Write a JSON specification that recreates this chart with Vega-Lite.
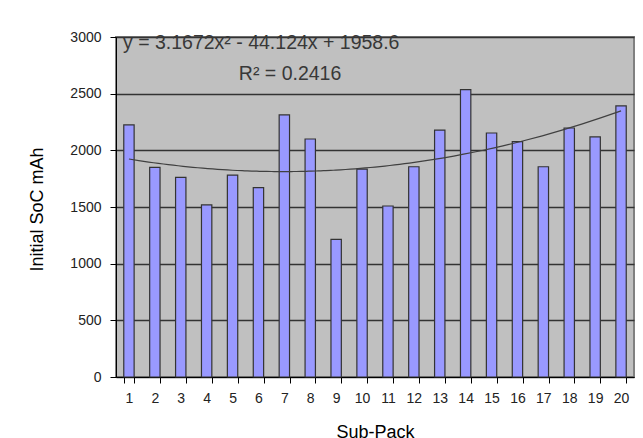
{
  "$schema": "https://vega.github.io/schema/vega-lite/v6.json",
  "width": 518,
  "height": 340,
  "autosize": "none",
  "padding": {"left": 116, "top": 37, "right": 9, "bottom": 61},
  "background": "white",
  "config": {
    "font": "Liberation Sans",
    "view": {"fill": "#C0C0C0", "stroke": "#808080", "strokeWidth": 2}
  },
  "data": {
    "values": [
      {"pack": 1, "soc": 2224},
      {"pack": 2, "soc": 1850},
      {"pack": 3, "soc": 1762},
      {"pack": 4, "soc": 1518},
      {"pack": 5, "soc": 1782},
      {"pack": 6, "soc": 1671},
      {"pack": 7, "soc": 2312},
      {"pack": 8, "soc": 2100},
      {"pack": 9, "soc": 1215},
      {"pack": 10, "soc": 1835},
      {"pack": 11, "soc": 1509},
      {"pack": 12, "soc": 1855},
      {"pack": 13, "soc": 2179},
      {"pack": 14, "soc": 2535},
      {"pack": 15, "soc": 2153},
      {"pack": 16, "soc": 2076},
      {"pack": 17, "soc": 1855},
      {"pack": 18, "soc": 2197},
      {"pack": 19, "soc": 2118},
      {"pack": 20, "soc": 2392}
    ]
  },
  "resolve": {"scale": {"x": "independent"}},
  "layer": [
    {
      "mark": {"type": "bar", "fill": "#9999FF", "stroke": "#333333", "strokeWidth": 1.2},
      "encoding": {
        "x": {
          "field": "pack",
          "type": "ordinal",
          "scale": {"paddingInner": 0.6, "paddingOuter": 0.3},
          "axis": {
            "tickBand": "extent",
            "labelAngle": 0,
            "grid": false,
            "domainColor": "#000000",
            "tickColor": "#000000",
            "tickSize": 6,
            "labelFontSize": 14,
            "labelColor": "#222222",
            "labelPadding": 8,
            "title": "Sub-Pack",
            "titleFontSize": 18,
            "titleFontWeight": "normal",
            "titleColor": "#000000",
            "titlePadding": 18
          }
        },
        "y": {
          "field": "soc",
          "type": "quantitative",
          "scale": {"domain": [0, 3000], "nice": false},
          "axis": {
            "values": [0, 500, 1000, 1500, 2000, 2500, 3000],
            "format": "d",
            "grid": true,
            "gridColor": "#333333",
            "gridWidth": 1.5,
            "domainColor": "#000000",
            "tickColor": "#000000",
            "tickSize": 6,
            "labelFontSize": 14,
            "labelColor": "#222222",
            "labelPadding": 9,
            "title": "Initial SoC mAh",
            "titleFontSize": 18,
            "titleFontWeight": "normal",
            "titleColor": "#000000",
            "titleAngle": -90,
            "titleBaseline": "middle",
            "titleAlign": "center",
            "titleX": -79,
            "titleY": 172
          }
        }
      }
    },
    {
      "transform": [{"regression": "soc", "on": "pack", "method": "poly", "order": 2}],
      "mark": {"type": "line", "color": "#404040", "strokeWidth": 1.2},
      "encoding": {
        "x": {"field": "pack", "type": "quantitative", "scale": {"domain": [0.5, 20.5], "nice": false, "zero": false}, "axis": null},
        "y": {"field": "soc", "type": "quantitative"}
      }
    },
    {
      "data": {"values": [{"label": "y = 3.1672x² - 44.124x + 1958.6"}]},
      "mark": {"type": "text", "align": "left", "baseline": "middle", "fontSize": 19.5, "color": "#383838"},
      "encoding": {
        "x": {"datum": 0.77, "type": "quantitative", "scale": {"domain": [0.5, 20.5], "nice": false, "zero": false}, "axis": null},
        "y": {"datum": 2947},
        "text": {"field": "label"}
      }
    },
    {
      "data": {"values": [{"label": "R² = 0.2416"}]},
      "mark": {"type": "text", "align": "center", "baseline": "middle", "fontSize": 19.5, "color": "#383838"},
      "encoding": {
        "x": {"datum": 7.22, "type": "quantitative", "scale": {"domain": [0.5, 20.5], "nice": false, "zero": false}, "axis": null},
        "y": {"datum": 2674},
        "text": {"field": "label"}
      }
    }
  ]
}
